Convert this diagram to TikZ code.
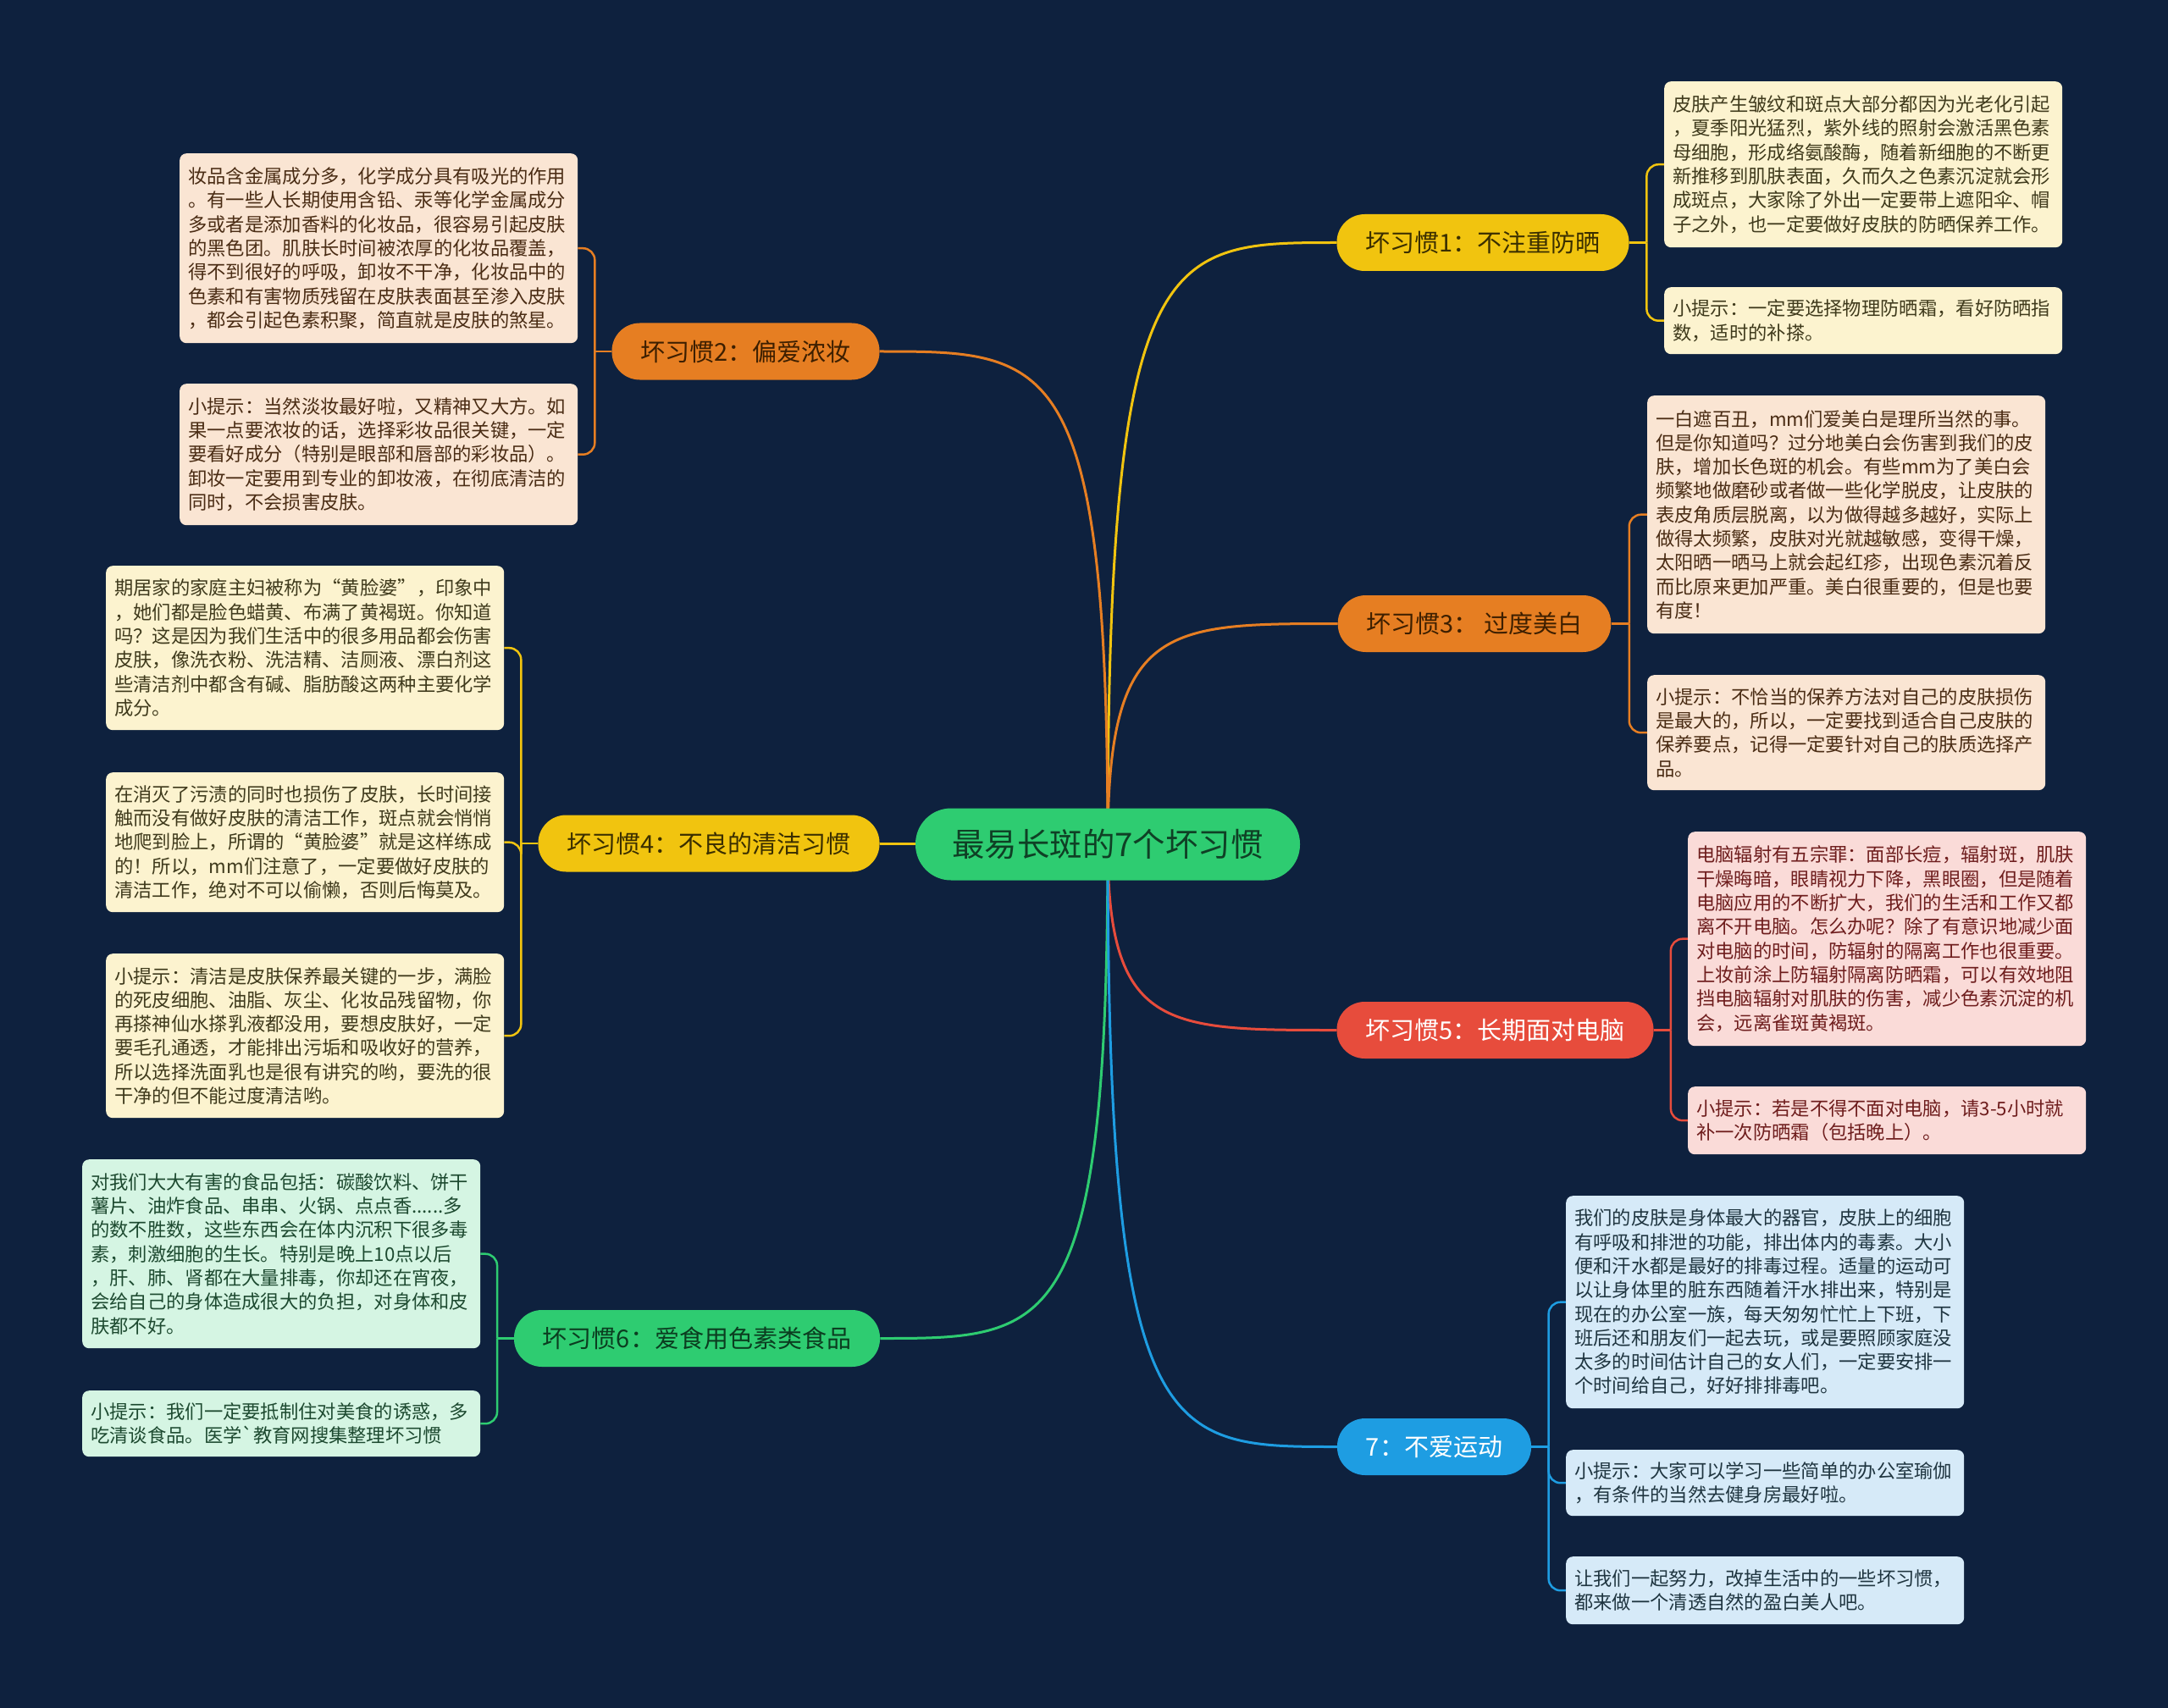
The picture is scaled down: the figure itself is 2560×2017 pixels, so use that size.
\documentclass[tikz,border=0pt]{standalone}
\usepackage{fontspec}
\setmainfont{Noto Sans CJK SC}[Ligatures=TeXOff]
\usetikzlibrary{calc}
\pgfdeclarelayer{bglayer}
\pgfdeclarelayer{linelayer}
\pgfsetlayers{bglayer,linelayer,main}
\definecolor{bgc}{HTML}{0E213E}
\definecolor{cY}{HTML}{F1C40F}
\definecolor{cO}{HTML}{E67E22}
\definecolor{cR}{HTML}{E74C3C}
\definecolor{cG}{HTML}{2ECC71}
\definecolor{cB}{HTML}{1E9DE2}
\definecolor{fY}{HTML}{FCF3CF}
\definecolor{fO}{HTML}{FAE5D3}
\definecolor{fR}{HTML}{FADBD8}
\definecolor{fG}{HTML}{D5F5E3}
\definecolor{fB}{HTML}{D6EAF8}
\definecolor{tY}{HTML}{3F3A1C}
\definecolor{tO}{HTML}{4A2C14}
\definecolor{tR}{HTML}{6E1D1D}
\definecolor{tG}{HTML}{1D4A30}
\definecolor{tB}{HTML}{1F3540}
\definecolor{bY}{HTML}{3A2E00}
\definecolor{bO}{HTML}{3D1F00}
\definecolor{bG}{HTML}{0B3D20}
\definecolor{cC}{HTML}{0F4025}
\begin{document}
\begin{tikzpicture}[x=1pt,y=-1pt,
  leafbase/.style={rounded corners=8pt, anchor=north west, inner xsep=10pt, inner ysep=0pt,
    text width=450pt, align=left, font=\fontsize{22.3}{28.3}\selectfont},
  leafY/.style={leafbase, fill=fY, text=tY},
  leafO/.style={leafbase, fill=fO, text=tO},
  leafR/.style={leafbase, fill=fR, text=tR},
  leafG/.style={leafbase, fill=fG, text=tG},
  leafB/.style={leafbase, fill=fB, text=tB},
  branch/.style={rounded corners=33pt, minimum height=67pt, inner xsep=34pt, inner ysep=0pt,
    font=\fontsize{29}{34}\selectfont},
  mainline/.style={line width=3pt},
  bracket/.style={line width=2.5pt, rounded corners=14pt},
  mmcurve/.style={to path={.. controls (\tikztostart |- \tikztotarget) and ($(\tikztostart |- \tikztotarget)!0.25!(\tikztotarget)$) .. (\tikztotarget)}}
]
\begin{pgfonlayer}{bglayer}
\fill[bgc] (0,0) rectangle (2560,2017);
\end{pgfonlayer}
\useasboundingbox (0,0) rectangle (2560,2017);

% central
\node[fill=cG, text=cC, rounded corners=42pt, minimum height=85pt, minimum width=454pt,
  inner sep=0pt, font=\fontsize{38.4}{44}\selectfont] (C) at (1308,997) {最易长斑的7个坏习惯};

% branches
\node[branch, fill=cY, text=bY] (B1) at (1751,286.5) {坏习惯1：不注重防晒};
\node[branch, fill=cO, text=bO] (B2) at (880.5,415) {坏习惯2：偏爱浓妆};
\node[branch, fill=cO, text=bO] (B3) at (1741,736.5) {坏习惯3： 过度美白};
\node[branch, fill=cY, text=bY] (B4) at (837,996) {坏习惯4：不良的清洁习惯};
\node[branch, fill=cR, text=white] (B5) at (1765.5,1216.5) {坏习惯5：长期面对电脑};
\node[branch, fill=cG, text=bG] (B6) at (823,1580.5) {坏习惯6：爱食用色素类食品};
\node[branch, fill=cB, text=white] (B7) at (1693.5,1708.5) {7：不爱运动};

% leaves right
\node[leafY, minimum height=196pt] (L1) at (1965,96) {皮肤产生皱纹和斑点大部分都因为光老化引起\\，夏季阳光猛烈，紫外线的照射会激活黑色素\\母细胞，形成络氨酸酶，随着新细胞的不断更\\新推移到肌肤表面，久而久之色素沉淀就会形\\成斑点，大家除了外出一定要带上遮阳伞、帽\\子之外，也一定要做好皮肤的防晒保养工作。};
\node[leafY, minimum height=79pt] (L2) at (1965,339) {小提示：一定要选择物理防晒霜，看好防晒指\\数，适时的补搽。};
\node[leafO, minimum height=281pt] (L3) at (1945,467) {一白遮百丑，mm们爱美白是理所当然的事。\\但是你知道吗？过分地美白会伤害到我们的皮\\肤，增加长色斑的机会。有些mm为了美白会\\频繁地做磨砂或者做一些化学脱皮，让皮肤的\\表皮角质层脱离，以为做得越多越好，实际上\\做得太频繁，皮肤对光就越敏感，变得干燥，\\太阳晒一晒马上就会起红疹，出现色素沉着反\\而比原来更加严重。美白很重要的，但是也要\\有度！};
\node[leafO, minimum height=136pt] (L4) at (1945,797) {小提示：不恰当的保养方法对自己的皮肤损伤\\是最大的，所以，一定要找到适合自己皮肤的\\保养要点，记得一定要针对自己的肤质选择产\\品。};
\node[leafR, minimum height=253pt] (L5) at (1993,982) {电脑辐射有五宗罪：面部长痘，辐射斑，肌肤\\干燥晦暗，眼睛视力下降，黑眼圈，但是随着\\电脑应用的不断扩大，我们的生活和工作又都\\离不开电脑。怎么办呢？除了有意识地减少面\\对电脑的时间，防辐射的隔离工作也很重要。\\上妆前涂上防辐射隔离防晒霜，可以有效地阻\\挡电脑辐射对肌肤的伤害，减少色素沉淀的机\\会，远离雀斑黄褐斑。};
\node[leafR, minimum height=80pt] (L6) at (1993,1283) {小提示：若是不得不面对电脑，请3-5小时就\\补一次防晒霜（包括晚上）。};
\node[leafB, minimum height=251pt] (L7) at (1849,1412) {我们的皮肤是身体最大的器官，皮肤上的细胞\\有呼吸和排泄的功能，排出体内的毒素。大小\\便和汗水都是最好的排毒过程。适量的运动可\\以让身体里的脏东西随着汗水排出来，特别是\\现在的办公室一族，每天匆匆忙忙上下班，下\\班后还和朋友们一起去玩，或是要照顾家庭没\\太多的时间估计自己的女人们，一定要安排一\\个时间给自己，好好排排毒吧。};
\node[leafB, minimum height=78pt] (L8) at (1849,1712) {小提示：大家可以学习一些简单的办公室瑜伽\\，有条件的当然去健身房最好啦。};
\node[leafB, minimum height=80pt] (L9) at (1849,1838) {让我们一起努力，改掉生活中的一些坏习惯，\\都来做一个清透自然的盈白美人吧。};

% leaves left
\node[leafO, minimum height=224pt] (L10) at (212,181) {妆品含金属成分多，化学成分具有吸光的作用\\。有一些人长期使用含铅、汞等化学金属成分\\多或者是添加香料的化妆品，很容易引起皮肤\\的黑色团。肌肤长时间被浓厚的化妆品覆盖，\\得不到很好的呼吸，卸妆不干净，化妆品中的\\色素和有害物质残留在皮肤表面甚至渗入皮肤\\，都会引起色素积聚，简直就是皮肤的煞星。};
\node[leafO, minimum height=167pt] (L11) at (212,453) {小提示：当然淡妆最好啦，又精神又大方。如\\果一点要浓妆的话，选择彩妆品很关键，一定\\要看好成分（特别是眼部和唇部的彩妆品）。\\卸妆一定要用到专业的卸妆液，在彻底清洁的\\同时，不会损害皮肤。};
\node[leafY, minimum height=194pt] (L12) at (125,668) {期居家的家庭主妇被称为“黄脸婆”，印象中\\，她们都是脸色蜡黄、布满了黄褐斑。你知道\\吗？这是因为我们生活中的很多用品都会伤害\\皮肤，像洗衣粉、洗洁精、洁厕液、漂白剂这\\些清洁剂中都含有碱、脂肪酸这两种主要化学\\成分。};
\node[leafY, minimum height=165pt] (L13) at (125,912) {在消灭了污渍的同时也损伤了皮肤，长时间接\\触而没有做好皮肤的清洁工作，斑点就会悄悄\\地爬到脸上，所谓的“黄脸婆”就是这样练成\\的！所以，mm们注意了，一定要做好皮肤的\\清洁工作，绝对不可以偷懒，否则后悔莫及。};
\node[leafY, minimum height=194pt] (L14) at (125,1126) {小提示：清洁是皮肤保养最关键的一步，满脸\\的死皮细胞、油脂、灰尘、化妆品残留物，你\\再搽神仙水搽乳液都没用，要想皮肤好，一定\\要毛孔通透，才能排出污垢和吸收好的营养，\\所以选择洗面乳也是很有讲究的哟，要洗的很\\干净的但不能过度清洁哟。};
\node[leafG, minimum height=223pt] (L15) at (97,1369) {对我们大大有害的食品包括：碳酸饮料、饼干\\薯片、油炸食品、串串、火锅、点点香......多\\的数不胜数，这些东西会在体内沉积下很多毒\\素，刺激细胞的生长。特别是晚上10点以后\\，肝、肺、肾都在大量排毒，你却还在宵夜，\\会给自己的身体造成很大的负担，对身体和皮\\肤都不好。};
\node[leafG, minimum height=78pt] (L16) at (97,1642) {小提示：我们一定要抵制住对美食的诱惑，多\\吃清谈食品。医学`教育网搜集整理坏习惯};

% junctions
\coordinate (J1) at ($(B1.east)!0.5!(L1.west |- B1.east)$);
\coordinate (J2) at ($(B2.west)!0.5!(L10.east |- B2.west)$);
\coordinate (J3) at ($(B3.east)!0.5!(L3.west |- B3.east)$);
\coordinate (J4) at ($(B4.west)!0.5!(L12.east |- B4.west)$);
\coordinate (J5) at ($(B5.east)!0.5!(L5.west |- B5.east)$);
\coordinate (J6) at ($(B6.west)!0.5!(L15.east |- B6.west)$);
\coordinate (J7) at ($(B7.east)!0.5!(L7.west |- B7.east)$);

\begin{pgfonlayer}{linelayer}
\draw[mainline, cY] (C.center) to[mmcurve] (B1.west);
\draw[mainline, cO] (C.center) to[mmcurve] (B2.east);
\draw[mainline, cO] (C.center) to[mmcurve] (B3.west);
\draw[mainline, cY] (C.center |- B4.east) -- (B4.east);
\draw[mainline, cR] (C.center) to[mmcurve] (B5.west);
\draw[mainline, cG] (C.center) to[mmcurve] (B6.east);
\draw[mainline, cB] (C.center) to[mmcurve] (B7.west);

\draw[bracket, cY] (B1.east) -- (J1);
\draw[bracket, cY] (J1) |- (L1.west);
\draw[bracket, cY] (J1) |- (L2.west);
\draw[bracket, cO] (B2.west) -- (J2);
\draw[bracket, cO] (J2) |- (L10.east);
\draw[bracket, cO] (J2) |- (L11.east);
\draw[bracket, cO] (B3.east) -- (J3);
\draw[bracket, cO] (J3) |- (L3.west);
\draw[bracket, cO] (J3) |- (L4.west);
\draw[bracket, cY] (B4.west) -- (J4);
\draw[bracket, cY] (J4) |- (L12.east);
\draw[bracket, cY] (J4) |- (L13.east);
\draw[bracket, cY] (J4) |- (L14.east);
\draw[bracket, cR] (B5.east) -- (J5);
\draw[bracket, cR] (J5) |- (L5.west);
\draw[bracket, cR] (J5) |- (L6.west);
\draw[bracket, cG] (B6.west) -- (J6);
\draw[bracket, cG] (J6) |- (L15.east);
\draw[bracket, cG] (J6) |- (L16.east);
\draw[bracket, cB] (B7.east) -- (J7);
\draw[bracket, cB] (J7) |- (L7.west);
\draw[bracket, cB] (J7) |- (L8.west);
\draw[bracket, cB] (J7) |- (L9.west);
\end{pgfonlayer}
\end{tikzpicture}
\end{document}
